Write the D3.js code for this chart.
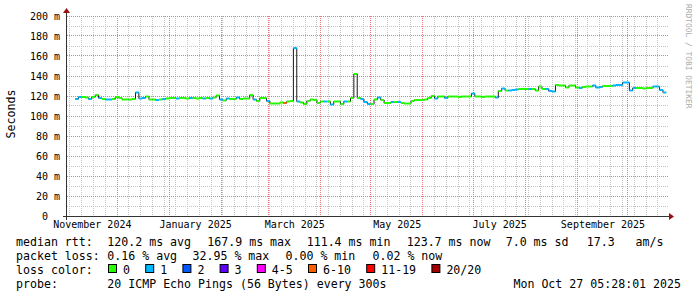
<!DOCTYPE html>
<html>
<head>
<meta charset="utf-8">
<script src="https://cdn.jsdelivr.net/npm/d3@7/dist/d3.min.js"></script>
<style>
  body { margin: 0; background: #ffffff; }
  text { font-family: "DejaVu Sans Mono", monospace; white-space: pre; }
</style>
</head>
<body>
<div id="my_dataviz"></div>
<script>
// median rtt (ms), one reading every 2 days from 2024-11-01, null = no data
var sampleStart = "2024-11-01";
var medianMs = [
  null, null, null, 117, 119, 119, 118.5, 117, 119, 121,
  118, 117, 116.5, 116.5, 117, 119, 118, 116.5, 116.5, 116.5,
  117, 123.5, 117.5, 118, 119.5, 116.5, 116.5, 116, 116.5, 117,
  117.5, 118, 118, 117.5, 118, 118, 117.5, 118, 118, 117.5,
  118, 117.5, 118, 117.5, 118.5, 120.5, 116.5, 115.5, 117.5, 117,
  117, 118.5, 117, 117.5, 117.5, 121, 116.5, 115, 118, 118,
  115, 112.5, 112.5, 112.5, 113.5, 113, 114.5, 115, 167.9, 114.5,
  113.5, 112, 115, 116.5, 116, 113, 114.5, 114.5, 114.5, 111.5,
  114.5, 114.5, 112, 114.5, 114.5, 118, 142, 118, 117, 114,
  112, 112, 116.5, 118.5, 116, 113, 113, 114, 114, 114,
  113, 112.5, 112.5, 115, 116, 116, 116, 116.5, 118, 120,
  117.5, 119.5, 119.5, 118, 119.5, 119.5, 119.5, 119, 119.5, 119.5,
  119.5, 122.5, 119.5, 119.5, 119, 119.5, 119.5, 119.5, 118.5, 125,
  127.5, 125.5, 125.5, 126, 126.5, 127, 127, 127, 127, 127,
  125.5, 129.5, 127, 127, 125, 124.5, 131, 130.5, 130.5, 128.5,
  130.5, 130.5, 128.5, 128, 129, 129.5, 129.5, 130.5, 128.5, 129,
  130, 130, 130, 130.5, 131, 131, 133.5, 133.5, 125.5, 128,
  128, 128, 127.5, 128, 128, 129.5, 129.5, 126, 123.5
];
// lost pings (of 20) for each reading
var lostPings = [
  null, null, null, 1, 1, 0, 0, 1, 0, 0,
  1, 0, 1, 1, 0, 0, 0, 0, 0, 0,
  0, 1, 1, 1, 0, 0, 0, 1, 0, 1,
  0, 0, 0, 1, 0, 0, 0, 1, 0, 0,
  0, 1, 0, 1, 0, 0, 1, 0, 1, 0,
  0, 1, 0, 0, 0, 0, 1, 0, 0, 0,
  1, 0, 0, 0, 0, 7, 0, 0, 1, 1,
  0, 0, 0, 0, 0, 0, 0, 1, 0, 1,
  0, 0, 0, 1, 0, 0, 0, 0, 1, 1,
  1, 0, 0, 1, 0, 0, 0, 1, 0, 1,
  0, 0, 0, 0, 0, 0, 0, 0, 0, 0,
  1, 0, 0, 1, 0, 0, 0, 0, 0, 0,
  0, 1, 0, 0, 0, 0, 0, 0, 1, 0,
  1, 0, 1, 1, 1, 0, 0, 0, 1, 0,
  0, 0, 0, 1, 1, 1, 0, 0, 0, 0,
  0, 0, 0, 1, 0, 0, 0, 1, 1, 1,
  0, 0, 0, 1, 1, 1, 1, 1, 1, 1,
  0, 0, 0, 0, 0, 1, 1, 1, 1
];

var yTicks = [0, 20, 40, 60, 80, 100, 120, 140, 160, 180, 200];
var yTickLabels = ["0", "20 m", "40 m", "60 m", "80 m", "100 m", "120 m", "140 m", "160 m", "180 m", "200 m"];
var xLabelMonths = ["November 2024", "January 2025", "March 2025", "May 2025", "July 2025", "September 2025"];

var lossLabels = ["0", "1", "2", "3", "4-5", "6-10", "11-19", "20/20"];
var lossUpper = [0, 1, 2, 3, 5, 10, 19, 20];
var lossColors = ["#26ff00", "#00b8ff", "#0059ff", "#5e00ff", "#ff00ff", "#ff5e00", "#ff0000", "#a10000"];

var medianText = ["120.2 ms avg", "167.9 ms max", "111.4 ms min", "123.7 ms now", "7.0 ms sd", "17.3   am/s"];
var lossText = ["0.16 % avg", "32.95 % max", "0.00 % min", "0.02 % now"];
var probeText = "20 ICMP Echo Pings (56 Bytes) every 300s";
var stampText = "Mon Oct 27 05:28:01 2025";

function drawChart() {
    var W = 697, H = 297;
    var plotLeft = 67, plotRight = 668, plotTop = 16, plotBottom = 216;

    var svg = d3.select("#my_dataviz")
        .append("svg")
        .attr("width", W)
        .attr("height", H)
        .style("background-color", "#ffffff");

    var x = d3.scaleTime()
        .domain([new Date(2024, 10, 1, 5, 28), new Date(2025, 9, 25, 0, 0)])
        .range([plotLeft, plotRight]);
    var y = d3.scaleLinear()
        .domain([0, 200])
        .range([plotBottom, plotTop]);

    var t0 = d3.timeParse("%Y-%m-%d")(sampleStart);
    var data = medianMs.map(function (v, i) {
        return { date: d3.timeDay.offset(t0, 2 * i), value: v, loss: lostPings[i] };
    });

    function lossColor(n) {
        for (var k = 0; k < lossUpper.length; k++) if (n <= lossUpper[k]) return lossColors[k];
        return lossColors[lossColors.length - 1];
    }
    function px(v) { return Math.floor(v) + 0.5; }

    var minorCol = "#c4c4c4", majorCol = "#e47c7c";

    // grid: minor first, major on top
    var grid = svg.append("g").attr("shape-rendering", "crispEdges");
    var minorH = d3.range(10, 200, 20);
    grid.selectAll("line.hmin").data(minorH).enter().append("line")
        .attr("class", "hmin")
        .attr("x1", plotLeft).attr("x2", plotRight)
        .attr("y1", function (d) { return px(y(d)); }).attr("y2", function (d) { return px(y(d)); })
        .attr("stroke", minorCol).attr("stroke-dasharray", "1,1");

    var weeks = d3.timeSunday.range(x.domain()[0], x.domain()[1]);
    grid.selectAll("line.vmin").data(weeks).enter().append("line")
        .attr("class", "vmin")
        .attr("x1", function (d) { return px(x(d)); }).attr("x2", function (d) { return px(x(d)); })
        .attr("y1", plotTop).attr("y2", plotBottom)
        .attr("stroke", minorCol).attr("stroke-dasharray", "1,1");

    var majorH = yTicks.filter(function (d) { return d > 0; });
    grid.selectAll("line.hmaj").data(majorH).enter().append("line")
        .attr("class", "hmaj")
        .attr("x1", plotLeft).attr("x2", plotRight)
        .attr("y1", function (d) { return px(y(d)); }).attr("y2", function (d) { return px(y(d)); })
        .attr("stroke", majorCol).attr("stroke-dasharray", "1,1");

    var months = d3.timeMonth.range(x.domain()[0], x.domain()[1]);
    grid.selectAll("line.vmaj").data(months).enter().append("line")
        .attr("class", "vmaj")
        .attr("x1", function (d) { return px(x(d)); }).attr("x2", function (d) { return px(x(d)); })
        .attr("y1", plotTop).attr("y2", plotBottom)
        .attr("stroke", majorCol).attr("stroke-dasharray", "1,1");

    // median line: dark step path, coloured by loss on top
    svg.append("path")
        .datum(data)
        .attr("fill", "none")
        .attr("stroke", "#1a1a1a")
        .attr("stroke-width", 1)
        .attr("d", d3.line()
            .defined(function (d) { return d.value != null; })
            .curve(d3.curveStep)
            .x(function (d) { return x(d.date); })
            .y(function (d) { return y(d.value); }));

    svg.selectAll("line.seg")
        .data(data.filter(function (d) { return d.value != null; }))
        .enter().append("line")
        .attr("class", "seg")
        .attr("x1", function (d) { return x(d3.timeDay.offset(d.date, -1)); })
        .attr("x2", function (d) { return x(d3.timeDay.offset(d.date, 1)); })
        .attr("y1", function (d) { return y(d.value); })
        .attr("y2", function (d) { return y(d.value); })
        .attr("stroke", function (d) { return lossColor(d.loss); })
        .attr("stroke-width", 2);

    // axes with arrows
    svg.append("line").attr("x1", plotLeft - 4).attr("x2", plotRight + 1)
        .attr("y1", plotBottom + 0.5).attr("y2", plotBottom + 0.5)
        .attr("stroke", "#333");
    svg.append("line").attr("x1", plotLeft - 0.5).attr("x2", plotLeft - 0.5)
        .attr("y1", plotBottom + 4).attr("y2", plotTop - 4)
        .attr("stroke", "#333");
    svg.append("path")
        .attr("d", "M" + (plotRight + 1) + "," + (plotBottom - 3) + "L" + (plotRight + 6) + "," + (plotBottom + 0.5) + "L" + (plotRight + 1) + "," + (plotBottom + 4) + "Z")
        .attr("fill", "#991111");
    svg.append("path")
        .attr("d", "M" + (plotLeft - 4) + "," + (plotTop - 3) + "L" + (plotLeft - 0.5) + "," + (plotTop - 8) + "L" + (plotLeft + 3) + "," + (plotTop - 3) + "Z")
        .attr("fill", "#991111");

    var yAxis = svg.append("g")
        .attr("transform", "translate(" + plotLeft + ",0)")
        .call(d3.axisLeft(y).tickValues(yTicks).tickSize(0).tickPadding(7)
            .tickFormat(function (d, i) { return yTickLabels[i]; }));
    yAxis.select(".domain").remove();
    yAxis.selectAll("text")
        .style("font-family", "DejaVu Sans Mono")
        .style("font-size", "10px")
        .attr("fill", "#000")
        .attr("dx", function (d) { return d === 0 ? "-12px" : 0; });

    var xLabelDates = xLabelMonths.map(function (s) {
        var m = d3.timeParse("%B %Y")(s);
        return new Date((m.getTime() + d3.timeMonth.offset(m, 1).getTime()) / 2);
    });
    var xAxis = svg.append("g")
        .attr("transform", "translate(0," + plotBottom + ")")
        .call(d3.axisBottom(x).tickValues(xLabelDates).tickSize(0).tickPadding(5)
            .tickFormat(function (d, i) { return xLabelMonths[i]; }));
    xAxis.select(".domain").remove();
    xAxis.selectAll("text")
        .style("font-family", "DejaVu Sans Mono")
        .style("font-size", "10px")
        .attr("fill", "#000");

    // axis title and watermark
    svg.append("text")
        .attr("transform", "translate(15,114) rotate(-90)")
        .attr("text-anchor", "middle")
        .style("font-size", "11.6px")
        .text("Seconds");
    svg.append("text")
        .attr("transform", "translate(686,4) rotate(90)")
        .style("font-size", "7.9px")
        .attr("fill", "#aaaaaa")
        .text("RRDTOOL / TOBI OETIKER");

    // legend
    var legend = svg.append("g").style("font-size", "11.6px").attr("fill", "#000");
    legend.append("text").attr("x", 16).attr("y", 245.5).text("median rtt:");
    var medX = [107.3, 207.3, 306.7, 406.7, 505.7, 586.7];
    medianText.forEach(function (s, i) {
        legend.append("text").attr("x", medX[i]).attr("y", 245.5).text(s);
    });
    legend.append("text").attr("x", 16).attr("y", 259.5).text("packet loss:");
    var lossX = [107.3, 192.5, 285.5, 372.5];
    lossText.forEach(function (s, i) {
        legend.append("text").attr("x", lossX[i]).attr("y", 259.5).text(s);
    });
    legend.append("text").attr("x", 16).attr("y", 273.5).text("loss color:");
    var boxX = 108;
    lossLabels.forEach(function (s, i) {
        legend.append("rect")
            .attr("x", boxX + 0.5).attr("y", 264.5)
            .attr("width", 8).attr("height", 8)
            .attr("fill", lossColors[i]).attr("stroke", "#000");
        legend.append("text").attr("x", boxX + 15).attr("y", 273.5).text(s);
        boxX += 30.2 + 7 * s.length;
    });
    legend.append("text").attr("x", 16).attr("y", 287.5).text("probe:");
    legend.append("text").attr("x", 107.3).attr("y", 287.5).text(probeText);
    legend.append("text").attr("x", 681).attr("y", 287.5).attr("text-anchor", "end").text(stampText);
}

drawChart();
</script>
</body>
</html>
